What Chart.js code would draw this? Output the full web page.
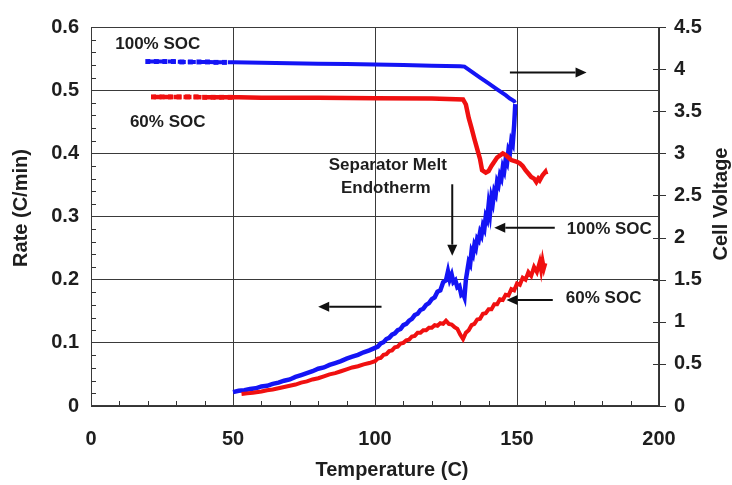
<!DOCTYPE html>
<html>
<head>
<meta charset="utf-8">
<script src="https://cdn.jsdelivr.net/npm/chart.js@4.4.1/dist/chart.umd.min.js"></script>
<style>
html,body{margin:0;padding:0;background:#fff;}
#wrap{width:732px;height:485px;position:relative;}
</style>
</head>
<body>
<div id="wrap"><canvas id="c" width="732" height="485"></canvas></div>
<script>
// ---- Data ----
// Heat rate, 100% SOC (left axis, C/min)
const rate100T = [50,52,54,56,58,60,62,64,66,68,70,72,74,76,78,80,82,84,86,88,90,92,94,96,98,100,101,102,103,104,105,106,107,108,109,110,111,112,113,114,115,116,117,118,119,120,121,122,123,124,125,125.7,126.3,127,127.6,128.3,129,129.7,130.4,131,131.5,132,132.5,133,133.5,134,134.5,135,135.5,136,136.5,137,137.5,138,138.5,139,139.5,140,140.5,141,141.5,142,142.5,143,143.5,144,144.5,145,145.5,146,146.5,147,147.5,148,148.5,149,149.4];
const rate100V = [0.022,0.024,0.025,0.027,0.028,0.031,0.032,0.035,0.037,0.040,0.042,0.046,0.049,0.052,0.055,0.059,0.061,0.065,0.068,0.071,0.075,0.078,0.081,0.085,0.088,0.092,0.094,0.099,0.101,0.106,0.108,0.113,0.115,0.120,0.122,0.128,0.130,0.135,0.138,0.144,0.146,0.152,0.154,0.160,0.163,0.169,0.172,0.181,0.183,0.196,0.199,0.213,0.200,0.208,0.196,0.199,0.188,0.190,0.176,0.178,0.172,0.200,0.214,0.228,0.224,0.245,0.240,0.255,0.250,0.265,0.262,0.275,0.270,0.285,0.280,0.300,0.295,0.318,0.305,0.330,0.322,0.340,0.335,0.355,0.350,0.365,0.360,0.378,0.372,0.390,0.385,0.405,0.400,0.420,0.415,0.445,0.478];
// Heat rate, 60% SOC (left axis, C/min)
const rate60T = [53,55,57,60,62,64,66,68,70,72,74,76,78,80,82,84,86,88,90,92,94,96,98,100,101,102,103,104,105,106,107,108,109,110,111,112,113,114,115,116,117,118,119,120,121,122,123,124,125,126,127,128,129,130,131,132,133,134,135,136,137,138,139,140,141,142,143,144,145,146,147,148,149,150,151,152,153,154,155,156,157,158,158.5,159,159.5,160];
const rate60V = [0.019,0.020,0.021,0.023,0.025,0.026,0.028,0.030,0.032,0.034,0.037,0.039,0.042,0.044,0.047,0.050,0.052,0.055,0.058,0.061,0.063,0.066,0.068,0.071,0.075,0.076,0.081,0.082,0.087,0.088,0.093,0.094,0.099,0.100,0.104,0.105,0.110,0.111,0.116,0.116,0.120,0.120,0.124,0.124,0.128,0.127,0.131,0.130,0.135,0.130,0.129,0.125,0.122,0.113,0.106,0.116,0.120,0.128,0.130,0.137,0.138,0.146,0.147,0.153,0.153,0.161,0.161,0.169,0.168,0.176,0.175,0.185,0.183,0.194,0.192,0.203,0.200,0.212,0.206,0.220,0.212,0.228,0.215,0.230,0.218,0.226];
// Cell voltage, 100% SOC (right axis, V)
const volt100T = [20,23,26,29,32,35,38,41,44,47,50,60,70,80,90,100,110,120,130,131.5,134,137,140,143,146,147.5,149,149.3];
const volt100V = [4.09,4.09,4.09,4.09,4.085,4.085,4.085,4.085,4.08,4.08,4.08,4.075,4.07,4.065,4.06,4.055,4.05,4.04,4.035,4.03,3.97,3.90,3.83,3.76,3.69,3.65,3.62,3.60];
// Cell voltage, 60% SOC (right axis, V)
const volt60T = [22,25,28,31,34,37,40,43,46,49,52,60,80,100,120,131,132,133,134,135,136,137,137.7,139,140,141,142,143,145,146,147,148,150,151,152,153,154,155,156,156.8,157.5,158,159,160,160.3];
const volt60V = [3.67,3.67,3.67,3.67,3.67,3.67,3.665,3.665,3.665,3.665,3.665,3.66,3.66,3.655,3.65,3.64,3.58,3.42,3.30,3.17,3.05,2.93,2.80,2.77,2.79,2.85,2.90,2.95,3.00,2.98,2.95,2.92,2.90,2.88,2.85,2.80,2.76,2.72,2.70,2.66,2.70,2.68,2.74,2.78,2.75];
// Axis ranges and tick labels
const xTicks = [0,50,100,150,200];
const yLeftTicks = [0,0.1,0.2,0.3,0.4,0.5,0.6];
const yRightTicks = [0,0.5,1,1.5,2,2.5,3,3.5,4,4.5];
const xTitle = 'Temperature (C)';
const yLeftTitle = 'Rate (C/min)';
const yRightTitle = 'Cell Voltage';

const pts = (t, v) => t.map((x, i) => ({x: x, y: v[i]}));

const BLUE = '#1414f5';
const RED = '#f01010';
const FONT = '"Liberation Sans", Arial, Helvetica, sans-serif';
const INK = '#1e1e1e';

// annotation texts (positions in data units of x / left y)
const notes = [
  {text: '100% SOC', x: 23.5, y: 0.572},
  {text: '60% SOC', x: 27.0, y: 0.449},
  {text: 'Separator Melt', x: 104.5, y: 0.381},
  {text: 'Endotherm', x: 103.8, y: 0.344},
  {text: '100% SOC', x: 182.5, y: 0.279},
  {text: '60% SOC', x: 180.5, y: 0.170}
];
const arrows = [
  {x1: 127.2, y1: 0.351, x2: 127.2, y2: 0.238},
  {x1: 102.3, y1: 0.157, x2: 80.0, y2: 0.157},
  {x1: 147.5, y1: 0.528, x2: 174.5, y2: 0.528},
  {x1: 163.3, y1: 0.282, x2: 142.0, y2: 0.282},
  {x1: 162.6, y1: 0.168, x2: 146.3, y2: 0.168}
];

const decor = {
  id: 'decor',
  beforeDatasetsDraw(chart) {
    const {ctx, chartArea: a, scales} = chart;
    const xs = scales.x, yl = scales.y, yr = scales.y2;
    ctx.save();
    ctx.strokeStyle = '#333';
    ctx.lineWidth = 1;
    ctx.beginPath();
    for (let v = 10; v < 200; v += 10) {
      if (v % 50 === 0) continue;
      const px = Math.round(xs.getPixelForValue(v)) + 0.5;
      ctx.moveTo(px, a.bottom); ctx.lineTo(px, a.bottom - 5);
    }
    for (let k = 1; k < 30; k++) {
      if (k % 5 === 0) continue;
      const py = Math.round(yl.getPixelForValue(k * 0.02)) + 0.5;
      ctx.moveTo(a.left, py); ctx.lineTo(a.left + 5, py);
    }
    yRightTicks.forEach(v => {
      const py = Math.round(yr.getPixelForValue(v)) + 0.5;
      ctx.moveTo(a.right - 6, py); ctx.lineTo(a.right + 7, py);
    });
    ctx.stroke();
    ctx.strokeStyle = '#3a3a3a';
    ctx.strokeRect(a.left + 0.5, a.top + 0.5, a.right - a.left - 1, a.bottom - a.top - 1);
    ctx.restore();
  },
  afterDatasetsDraw(chart) {
    const {ctx, scales} = chart;
    const xs = scales.x, yl = scales.y;
    ctx.save();
    ctx.fillStyle = INK;
    ctx.textAlign = 'center';
    ctx.textBaseline = 'middle';
    ctx.font = 'bold 17px ' + FONT;
    notes.forEach(n => ctx.fillText(n.text, xs.getPixelForValue(n.x), yl.getPixelForValue(n.y)));
    ctx.strokeStyle = '#111';
    ctx.fillStyle = '#111';
    ctx.lineWidth = 2;
    arrows.forEach(r => {
      const x1 = xs.getPixelForValue(r.x1), y1 = yl.getPixelForValue(r.y1);
      const x2 = xs.getPixelForValue(r.x2), y2 = yl.getPixelForValue(r.y2);
      const ang = Math.atan2(y2 - y1, x2 - x1);
      const hl = 11, hw = 5;
      const bx = x2 - hl * Math.cos(ang), by = y2 - hl * Math.sin(ang);
      ctx.beginPath(); ctx.moveTo(x1, y1); ctx.lineTo(bx, by); ctx.stroke();
      ctx.beginPath();
      ctx.moveTo(x2, y2);
      ctx.lineTo(bx + hw * Math.sin(ang), by - hw * Math.cos(ang));
      ctx.lineTo(bx - hw * Math.sin(ang), by + hw * Math.cos(ang));
      ctx.closePath(); ctx.fill();
    });
    ctx.fillStyle = INK;
    ctx.font = 'bold 20px ' + FONT;
    ctx.fillText(xTitle, 392, 470);
    ctx.translate(21, 208); ctx.rotate(-Math.PI / 2);
    ctx.fillText(yLeftTitle, 0, 0);
    ctx.setTransform(1, 0, 0, 1, 0, 0);
    ctx.translate(721, 204); ctx.rotate(-Math.PI / 2);
    ctx.fillText(yRightTitle, 0, 0);
    ctx.restore();
  }
};

const early = (c) => (c.raw && c.raw.x < 50 ? 3.5 : 0);
const earlyDash = {borderDash: (c) => (c.p0.parsed.x < 48 ? [8, 2] : undefined)};

new Chart(document.getElementById('c'), {
  type: 'scatter',
  data: {
    datasets: [
      {label: 'Voltage 100% SOC', data: pts(volt100T, volt100V), yAxisID: 'y2', showLine: true,
       borderColor: BLUE, backgroundColor: BLUE, borderWidth: 4, pointRadius: early, pointStyle: 'rect',
       pointBorderWidth: 0, tension: 0, segment: earlyDash},
      {label: 'Voltage 60% SOC', data: pts(volt60T, volt60V), yAxisID: 'y2', showLine: true,
       borderColor: RED, backgroundColor: RED, borderWidth: 4.5, pointRadius: early, pointStyle: 'rect',
       pointBorderWidth: 0, tension: 0, segment: earlyDash},
      {label: 'Rate 60% SOC', data: pts(rate60T, rate60V), yAxisID: 'y', showLine: true,
       borderColor: RED, backgroundColor: RED, borderWidth: 4, pointRadius: 0, tension: 0},
      {label: 'Rate 100% SOC', data: pts(rate100T, rate100V), yAxisID: 'y', showLine: true,
       borderColor: BLUE, backgroundColor: BLUE, borderWidth: 4.5, pointRadius: 0, tension: 0}
    ]
  },
  options: {
    responsive: false,
    animation: false,
    layout: {padding: {top: 16, left: 0, right: 0, bottom: 0}},
    plugins: {legend: {display: false}, tooltip: {enabled: false}},
    scales: {
      x: {
        type: 'linear', min: 0, max: 200,
        afterBuildTicks: s => { s.ticks = xTicks.map(v => ({value: v})); },
        afterFit: s => { s.height = 79; },
        ticks: {color: INK, font: {family: FONT, size: 20, weight: 'bold'}, padding: 21, maxRotation: 0},
        grid: {color: '#3a3a3a', lineWidth: 1, drawTicks: false},
        border: {display: true, color: '#333'}
      },
      y: {
        type: 'linear', position: 'left', min: 0, max: 0.6,
        afterBuildTicks: s => { s.ticks = yLeftTicks.map(v => ({value: v})); },
        afterFit: s => { s.width = 91; },
        ticks: {color: INK, font: {family: FONT, size: 20, weight: 'bold'}, padding: 12,
                callback: v => String(Math.round(v * 10) / 10)},
        grid: {color: '#3a3a3a', lineWidth: 1, drawTicks: false},
        border: {display: true, color: '#333'}
      },
      y2: {
        type: 'linear', position: 'right', min: 0, max: 4.5,
        afterBuildTicks: s => { s.ticks = yRightTicks.map(v => ({value: v})); },
        afterFit: s => { s.width = 73; },
        ticks: {color: INK, font: {family: FONT, size: 20, weight: 'bold'}, padding: 15,
                callback: v => String(Math.round(v * 10) / 10)},
        grid: {drawOnChartArea: false, drawTicks: false},
        border: {display: true, color: '#333'}
      }
    }
  },
  plugins: [decor]
});
</script>
</body>
</html>
